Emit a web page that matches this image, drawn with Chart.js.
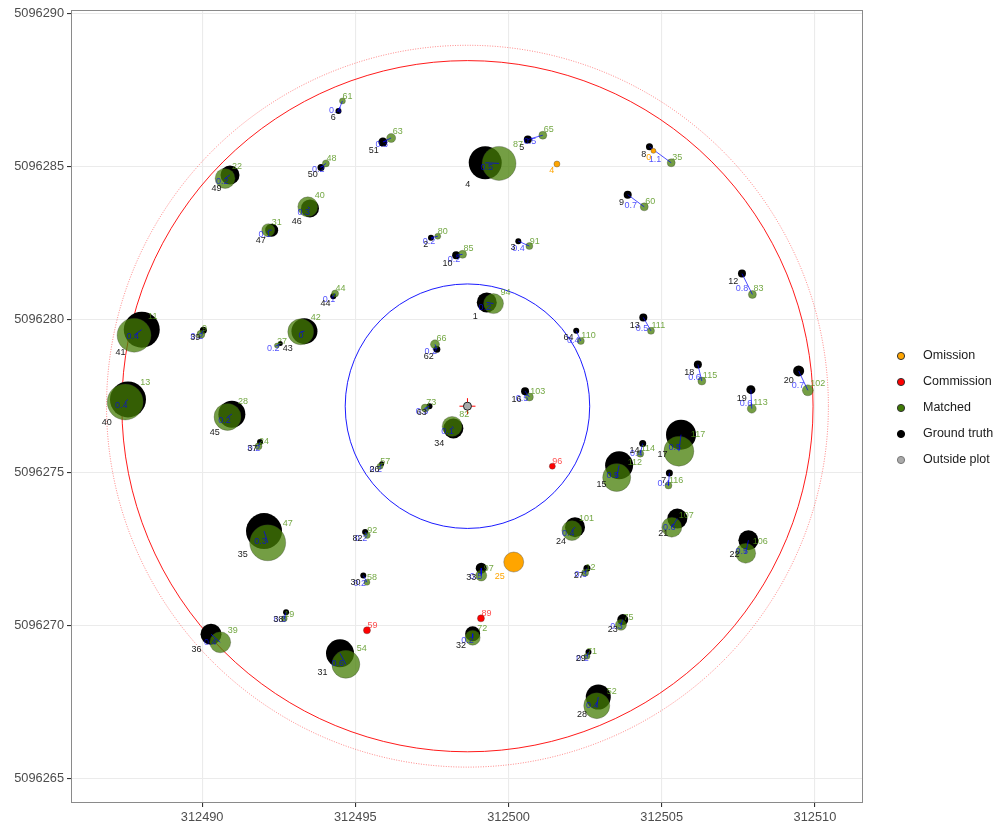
<!DOCTYPE html>
<html>
<head>
<meta charset="utf-8">
<script src="https://cdn.jsdelivr.net/npm/chart.js@4.4.0/dist/chart.umd.min.js"></script>
<style>
  html, body { margin: 0; padding: 0; background: #fff; }
  #wrap { width: 997px; height: 823px; }
</style>
</head>
<body>
<div id="wrap"><canvas id="stemMap"></canvas></div>
<script>
// ground truth trees (matched ones), same order as the detections below ('' = label not shown)
const gtId = ['49','46','47','50','6','51','4','5','2','10','3','8','9','12','13','18','19','20','17','14','15','7','21','22','23','28','33','27','30','32','29','31','36','38','35','41','40','39','','43','45','37','44','1','62','64','16','63','34','26','24','82'];
const gtX = [312490.91,312493.52,312492.27,312493.88,312494.45,312495.90,312499.24,312500.63,312497.47,312498.29,312500.32,312504.60,312503.89,312507.62,312504.40,312506.18,312507.91,312509.47,312505.63,312504.38,312503.61,312505.25,312505.51,312507.83,312503.73,312502.93,312499.11,312502.56,312495.26,312498.83,312502.61,312494.50,312490.29,312492.74,312492.02,312488.03,312487.58,312490.04,312492.55,312493.34,312490.97,312491.89,312494.28,312499.29,312497.66,312502.21,312500.54,312497.42,312498.20,312495.86,312502.17,312495.32];
const gtY = [5096284.72,5096283.63,5096282.92,5096284.97,5096286.81,5096285.80,5096285.12,5096285.88,5096282.67,5096282.10,5096282.56,5096285.64,5096284.08,5096281.50,5096280.07,5096278.53,5096277.71,5096278.32,5096276.24,5096275.95,5096275.24,5096274.99,5096273.50,5096272.79,5096270.20,5096267.67,5096271.88,5096271.88,5096271.64,5096269.74,5096269.14,5096269.10,5096269.72,5096270.44,5096273.09,5096279.67,5096277.39,5096279.65,5096279.22,5096279.62,5096276.91,5096276.00,5096280.76,5096280.56,5096279.03,5096279.63,5096277.66,5096277.17,5096276.44,5096275.29,5096273.22,5096273.06];
const gtSize = [19,18,13,7,6,9,33,8,6,8,6,7,8,8,8,8,9,11,30,7,28,7,20,20,11,25,11,7,6,15,6,28,21,6,36,36,36,7,5,26,27,6,6,20,7,6,8,6,20,5,20,6];

// detections matched to the trees above
const detId = ['22','40','31','48','61','63','87','65','80','85','91','35','60','83','111','115','113','102','117','114','112','116','107','106','75','52','97','12','58','72','71','54','39','19','47','11','13','9','27','42','28','24','44','94','66','110','103','73','82','57','101','92'];
const detX = [312490.75,312493.45,312492.16,312494.04,312494.58,312496.17,312499.69,312501.12,312497.69,312498.50,312500.68,312505.31,312504.43,312507.96,312504.65,312506.31,312507.94,312509.77,312505.56,312504.30,312503.53,312505.22,312505.33,312507.74,312503.67,312502.88,312499.11,312502.50,312495.38,312498.83,312502.56,312494.69,312490.59,312492.68,312492.14,312487.78,312487.49,312489.96,312492.44,312493.22,312490.83,312491.84,312494.34,312499.51,312497.60,312502.36,312500.68,312497.28,312498.16,312495.81,312502.07,312495.39];
const detY = [5096284.61,5096283.68,5096282.92,5096285.10,5096287.14,5096285.93,5096285.10,5096286.02,5096282.72,5096282.13,5096282.40,5096285.12,5096283.68,5096280.82,5096279.63,5096277.99,5096277.09,5096277.69,5096275.70,5096275.62,5096274.84,5096274.58,5096273.22,5096272.37,5096270.03,5096267.39,5096271.64,5096271.73,5096271.42,5096269.61,5096269.00,5096268.74,5096269.46,5096270.23,5096272.71,5096279.49,5096277.31,5096279.52,5096279.15,5096279.60,5096276.82,5096275.86,5096280.85,5096280.52,5096279.19,5096279.30,5096277.47,5096277.11,5096276.51,5096275.21,5096273.11,5096272.95];
const detSize = [20,20,13,7,6,9,34,8,6,8,7,8,8,8,7,8,9,11,30,7,28,7,20,20,11,26,11,7,6,15,6,28,21,6,36,34,36,8,5,26,27,7,7,20,9,7,8,8,20,6,20,6];
const matchDist = [0.2,0.3,0.1,0.2,0.4,0.3,0.5,0.5,0.2,0.2,0.4,1.1,0.7,0.8,0.5,0.6,0.6,0.7,0.5,0.4,0.5,0.4,0.6,0.5,0.3,0.4,0.5,0.3,0.2,0.2,0.2,0.6,0.4,0.3,0.3,0.4,0.4,0.2,0.2,0,0.2,0.2,0.1,0.2,0.2,0.4,0.5,0.3,0.1,0.2,0.4,0.2];

// omissions (trees without a detection)
const omId = ['4','0','25'];
const omX = [312501.58,312504.73,312500.17];
const omY = [5096285.08,5096285.51,5096272.08];
const omSize = [6,5,20];

// commissions (detections without a tree)
const comId = ['96','59','89'];
const comX = [312501.43,312495.38,312499.10];
const comY = [5096275.21,5096269.85,5096270.24];
const comSize = [6,7,7];

// plot centre and radii (m)
const centreX = [312498.66];
const centreY = [5096277.17];
const plotRadius = 11.28;
const bufferRadius = 11.78;
const subplotRadius = 3.99;

const xTicks = [312490, 312495, 312500, 312505, 312510];
const yTicks = [5096265, 5096270, 5096275, 5096280, 5096285, 5096290];
const legendLabels = ['Omission', 'Commission', 'Matched', 'Ground truth', 'Outside plot'];

const FONT = "'Liberation Sans', Arial, sans-serif";
const GREEN = 'rgba(70,125,5,0.75)';
const legendFill = ['#FFA500', '#FF0000', '#3f7a05', '#000000', '#aaaaaa'];
const legendStroke = ['#333', '#333', '#333', '#000', '#777'];

const pts = (xs, ys) => xs.map((x, i) => ({ x: x, y: ys[i] }));

const links = [];
gtX.forEach((x, i) => {
    links.push({ x: x, y: gtY[i] }, { x: detX[i], y: detY[i] }, { x: null, y: null });
});

const overlay = {
    id: 'overlay',
    beforeDatasetsDraw(chart) {
        const ctx = chart.ctx, sx = chart.scales.x, sy = chart.scales.y;
        const cx = sx.getPixelForValue(centreX[0]);
        const cy = sy.getPixelForValue(centreY[0]);
        const rpx = r => sx.getPixelForValue(centreX[0] + r) - cx;
        ctx.save();
        ctx.lineWidth = 0.9;
        ctx.strokeStyle = 'rgba(255,0,0,0.55)';
        ctx.setLineDash([1, 1.5]);
        ctx.beginPath(); ctx.arc(cx, cy, rpx(bufferRadius), 0, Math.PI * 2); ctx.stroke();
        ctx.setLineDash([]);
        ctx.strokeStyle = '#ff0000';
        ctx.beginPath(); ctx.arc(cx, cy, rpx(plotRadius), 0, Math.PI * 2); ctx.stroke();
        ctx.strokeStyle = '#0000ff';
        ctx.beginPath(); ctx.arc(cx, cy, rpx(subplotRadius), 0, Math.PI * 2); ctx.stroke();
        ctx.restore();
    },
    afterDatasetsDraw(chart) {
        const ctx = chart.ctx, sx = chart.scales.x, sy = chart.scales.y;
        ctx.save();
        ctx.font = '9px ' + FONT;
        // distance labels
        ctx.fillStyle = 'rgba(0,0,255,0.7)';
        ctx.textAlign = 'right';
        ctx.textBaseline = 'top';
        gtX.forEach((x, i) => {
            const mx = (sx.getPixelForValue(x) + sx.getPixelForValue(detX[i])) / 2;
            const my = (sy.getPixelForValue(gtY[i]) + sy.getPixelForValue(detY[i])) / 2;
            ctx.fillText(String(matchDist[i]), mx + 1, my);
        });
        // tree ids, below left
        const below = (ids, xs, ys, sizes, colour) => {
            ctx.fillStyle = colour;
            ctx.textAlign = 'right';
            ctx.textBaseline = 'top';
            ids.forEach((id, i) => {
                const r = sizes[i] / 2;
                ctx.fillText(id, sx.getPixelForValue(xs[i]) - 0.9 * r, sy.getPixelForValue(ys[i]) + 1.1 * r - 1);
            });
        };
        // detection ids, above right
        const above = (ids, xs, ys, sizes, colour) => {
            ctx.fillStyle = colour;
            ctx.textAlign = 'left';
            ctx.textBaseline = 'bottom';
            ids.forEach((id, i) => {
                const r = sizes[i] / 2;
                ctx.fillText(id, sx.getPixelForValue(xs[i]) + Math.max(r - 3, 0), sy.getPixelForValue(ys[i]) - Math.max(r - 2, 0) + 1);
            });
        };
        below(gtId, gtX, gtY, gtSize, '#1a1a1a');
        below(omId, omX, omY, omSize, '#FFA500');
        above(detId, detX, detY, detSize, 'rgba(80,145,20,0.8)');
        above(comId, comX, comY, comSize, 'rgba(255,0,0,0.7)');
        ctx.restore();
    },
    afterDraw(chart) {
        const ctx = chart.ctx, a = chart.chartArea;
        ctx.save();
        ctx.strokeStyle = '#8a8a8a';
        ctx.lineWidth = 1;
        ctx.strokeRect(a.left + 0.5, a.top + 0.5, a.right - a.left - 1, a.bottom - a.top - 1);
        // legend
        const lx = a.right + 38;
        const mid = (a.top + a.bottom) / 2 + 1.5;
        ctx.font = '12.5px ' + FONT;
        ctx.textAlign = 'left';
        ctx.textBaseline = 'middle';
        legendLabels.forEach((t, i) => {
            const y = mid + (i - 2) * 26;
            ctx.beginPath();
            ctx.arc(lx, y, 3.6, 0, Math.PI * 2);
            ctx.fillStyle = legendFill[i];
            ctx.fill();
            ctx.lineWidth = 1;
            ctx.strokeStyle = legendStroke[i];
            ctx.stroke();
            ctx.fillStyle = '#1a1a1a';
            ctx.fillText(t, lx + 22, y);
        });
        ctx.restore();
    }
};

const axisTicks = { color: '#4d4d4d', font: { family: FONT, size: 12.8 }, padding: 3, autoSkip: false, maxRotation: 0, callback: v => String(v) };
const axisGrid = { color: '#ebebeb', lineWidth: 1.1, tickColor: '#333', tickLength: 4 };
const noPad = s => { s.paddingTop = 0; s.paddingBottom = 0; s.paddingLeft = 0; s.paddingRight = 0; };

new Chart(document.getElementById('stemMap'), {
    type: 'scatter',
    data: {
        datasets: [
            {
                label: 'Ground truth',
                data: pts(gtX, gtY),
                backgroundColor: '#000000',
                borderWidth: 0,
                pointRadius: c => gtSize[c.dataIndex] / 2,
                order: 6
            },
            {
                label: 'Matched',
                data: pts(detX, detY),
                backgroundColor: GREEN,
                borderColor: 'rgba(40,40,40,0.45)',
                borderWidth: 0.6,
                pointRadius: c => detSize[c.dataIndex] / 2,
                order: 5
            },
            {
                label: 'links',
                data: links,
                showLine: true,
                spanGaps: false,
                borderColor: 'rgba(0,0,255,0.7)',
                borderWidth: 1,
                pointRadius: 0,
                order: 4
            },
            {
                label: 'Omission',
                data: pts(omX, omY),
                backgroundColor: '#FFA500',
                borderColor: 'rgba(60,60,60,0.6)',
                borderWidth: 0.6,
                pointRadius: c => omSize[c.dataIndex] / 2,
                order: 3
            },
            {
                label: 'Commission',
                data: pts(comX, comY),
                backgroundColor: '#FF0000',
                borderColor: 'rgba(60,60,60,0.6)',
                borderWidth: 0.6,
                pointRadius: c => comSize[c.dataIndex] / 2,
                order: 3
            },
            {
                label: 'centre cross',
                data: pts(centreX, centreY),
                pointStyle: 'cross',
                borderColor: '#ff0000',
                borderWidth: 1,
                pointRadius: 8,
                order: 2
            },
            {
                label: 'Outside plot',
                data: pts(centreX, centreY),
                backgroundColor: '#aaaaaa',
                borderColor: '#222',
                borderWidth: 1,
                pointRadius: 4,
                order: 1
            }
        ]
    },
    options: {
        responsive: true,
        maintainAspectRatio: false,
        animation: false,
        events: [],
        layout: { autoPadding: false, padding: { left: 0, top: 10, right: 134, bottom: 0 } },
        scales: {
            x: {
                type: 'linear',
                min: 312485.72,
                max: 312511.57,
                afterBuildTicks: s => { s.ticks = xTicks.map(v => ({ value: v })); },
                afterFit: s => { s.height = 20; noPad(s); },
                ticks: axisTicks,
                grid: axisGrid,
                border: { display: false }
            },
            y: {
                type: 'linear',
                min: 5096264.21,
                max: 5096290.11,
                afterBuildTicks: s => { s.ticks = yTicks.map(v => ({ value: v })); },
                afterFit: s => { s.width = 71; noPad(s); },
                ticks: axisTicks,
                grid: axisGrid,
                border: { display: false }
            }
        },
        plugins: {
            legend: { display: false },
            tooltip: { enabled: false }
        }
    },
    plugins: [overlay]
});
</script>
</body>
</html>
